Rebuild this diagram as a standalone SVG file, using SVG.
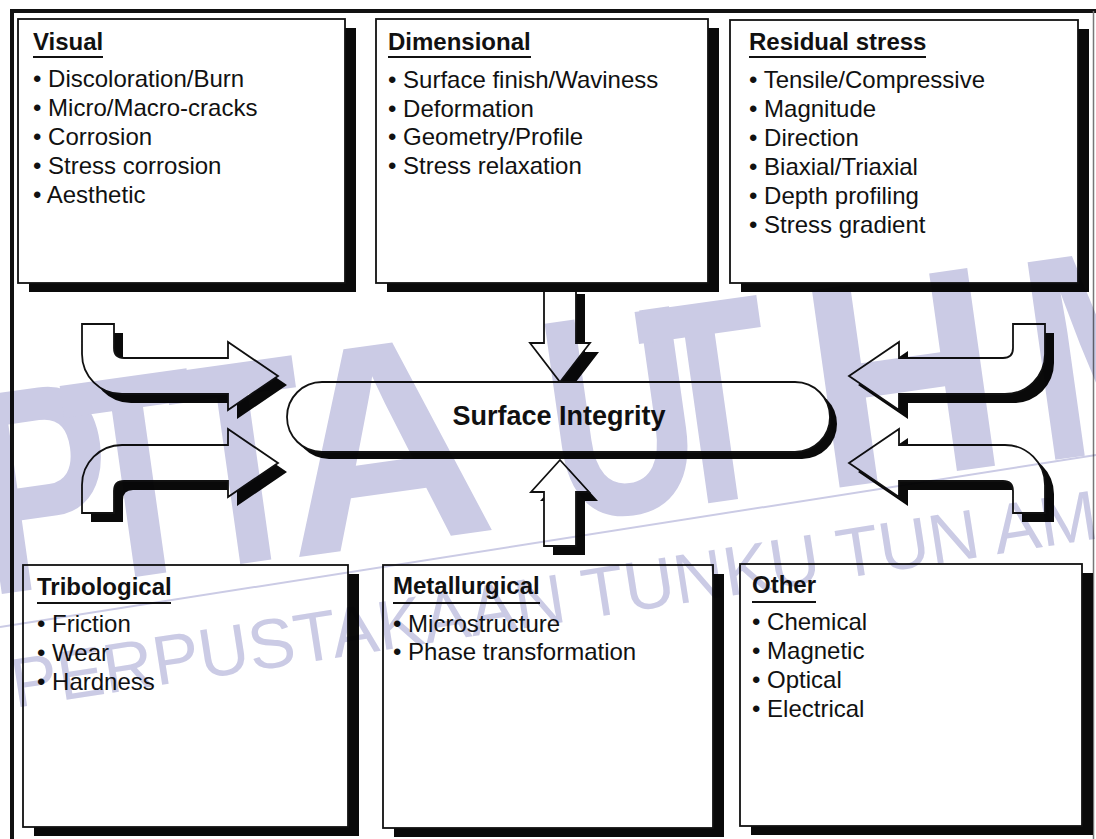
<svg xmlns="http://www.w3.org/2000/svg" width="1096" height="839" viewBox="0 0 1096 839">
<defs>
<style>
.box{fill:#fff;stroke:#111;stroke-width:1.8}
.shd{fill:#0a0a0a}
.ttl{font-family:"Liberation Sans",Arial,sans-serif;font-size:24px;font-weight:bold;fill:#111}
.itm{font-family:"Liberation Sans",Arial,sans-serif;font-size:24px;fill:#111}
.ul{stroke:#111;stroke-width:2}
.arr{fill:#fff;stroke:#111;stroke-width:1.8;stroke-linejoin:miter}
.ctr{font-family:"Liberation Sans",Arial,sans-serif;font-size:27px;font-weight:bold;fill:#111}
.wm{fill:#cbcbe5;font-family:"Liberation Sans",Arial,sans-serif;mix-blend-mode:multiply}
.big{font-size:290px;font-weight:bold}
</style>
</defs>
<rect width="1096" height="839" fill="#fff"/>
<g id="frame">
<line x1="10" y1="11" x2="1096" y2="11" stroke="#111" stroke-width="4"/>
<line x1="12" y1="9" x2="12" y2="839" stroke="#111" stroke-width="4"/>
<line x1="1093.5" y1="11" x2="1093.5" y2="839" stroke="#777" stroke-width="1.5"/>
</g>

<g id="visual">
<rect class="shd" x="29" y="28" width="327" height="264"/>
<rect class="box" x="18" y="19" width="327" height="264"/>
<text class="ttl" x="33" y="50">Visual</text>
<line class="ul" x1="33" y1="57" x2="103" y2="57"/>
<text class="itm" x="33" y="87">• Discoloration/Burn</text>
<text class="itm" x="33" y="116">• Micro/Macro-cracks</text>
<text class="itm" x="33" y="145">• Corrosion</text>
<text class="itm" x="33" y="174">• Stress corrosion</text>
<text class="itm" x="33" y="203">• Aesthetic</text>
</g>

<g id="dimensional">
<rect class="shd" x="387" y="28" width="332" height="264"/>
<rect class="box" x="376" y="19" width="332" height="264"/>
<text class="ttl" x="388" y="50">Dimensional</text>
<line class="ul" x1="388" y1="57" x2="531" y2="57"/>
<text class="itm" x="388" y="88">• Surface finish/Waviness</text>
<text class="itm" x="388" y="116.5">• Deformation</text>
<text class="itm" x="388" y="145">• Geometry/Profile</text>
<text class="itm" x="388" y="173.5">• Stress relaxation</text>
</g>

<g id="residual">
<rect class="shd" x="741" y="29" width="348" height="263"/>
<rect class="box" x="730" y="20" width="348" height="263"/>
<text class="ttl" x="749" y="50">Residual stress</text>
<line class="ul" x1="749" y1="57" x2="926" y2="57"/>
<text class="itm" x="749" y="88">• Tensile/Compressive</text>
<text class="itm" x="749" y="117">• Magnitude</text>
<text class="itm" x="749" y="146">• Direction</text>
<text class="itm" x="749" y="175">• Biaxial/Triaxial</text>
<text class="itm" x="749" y="204">• Depth profiling</text>
<text class="itm" x="749" y="233">• Stress gradient</text>
</g>

<g id="tribological">
<rect class="shd" x="34" y="574" width="325" height="262"/>
<rect class="box" x="23" y="565" width="325" height="262"/>
<text class="ttl" x="37" y="595">Tribological</text>
<line class="ul" x1="37" y1="603" x2="171" y2="603"/>
<text class="itm" x="37" y="632">• Friction</text>
<text class="itm" x="37" y="661">• Wear</text>
<text class="itm" x="37" y="690">• Hardness</text>
</g>

<g id="metallurgical">
<rect class="shd" x="394" y="574" width="330" height="263"/>
<rect class="box" x="383" y="565" width="330" height="263"/>
<text class="ttl" x="393" y="594">Metallurgical</text>
<line class="ul" x1="393" y1="603" x2="540" y2="603"/>
<text class="itm" x="393" y="632">• Microstructure</text>
<text class="itm" x="393" y="660">• Phase transformation</text>
</g>

<g id="other">
<rect class="shd" x="751" y="573" width="342" height="262"/>
<rect class="box" x="740" y="564" width="342" height="262"/>
<text class="ttl" x="752" y="593">Other</text>
<line class="ul" x1="752" y1="602" x2="816" y2="602"/>
<text class="itm" x="752" y="630">• Chemical</text>
<text class="itm" x="752" y="659">• Magnetic</text>
<text class="itm" x="752" y="688">• Optical</text>
<text class="itm" x="752" y="717">• Electrical</text>
</g>

<g id="connectors">
<g id="arrow-top">
<path class="shd" d="M553,294 L553,352 L539,352 L569,391 L599,352 L585,352 L585,294 Z"/>
<path class="arr" d="M544,292 L544,343 L530,343 L560,382 L590,343 L576,343 L576,292"/>
</g>
<g id="arrow-ul">
<path class="shd" transform="translate(9,9)" d="M82,324 L114,324 L114,348 Q114,358 124,358 L228,358 L228,342 L278,376 L228,410 L228,394 L122,394 A40,40 0 0 1 82,354 Z"/>
<path class="arr" d="M82,324 L114,324 L114,348 Q114,358 124,358 L228,358 L228,342 L278,376 L228,410 L228,394 L122,394 A40,40 0 0 1 82,354 Z"/>
</g>
<g id="arrow-ll">
<path class="shd" transform="translate(9,9)" d="M82,513 L82,485 A40,40 0 0 1 122,445 L228,445 L228,429 L278,463 L228,497 L228,481 L124,481 Q114,481 114,491 L114,513 Z"/>
<path class="arr" d="M82,513 L82,485 A40,40 0 0 1 122,445 L228,445 L228,429 L278,463 L228,497 L228,481 L124,481 Q114,481 114,491 L114,513 Z"/>
</g>
<g id="arrow-ur">
<path class="shd" transform="translate(9,9)" d="M1045,324 L1013,324 L1013,348 Q1013,358 1003,358 L899,358 L899,342 L849,376 L899,410 L899,394 L1005,394 A40,40 0 0 0 1045,354 Z"/>
<path class="arr" d="M1045,324 L1013,324 L1013,348 Q1013,358 1003,358 L899,358 L899,342 L849,376 L899,410 L899,394 L1005,394 A40,40 0 0 0 1045,354 Z"/>
</g>
<g id="arrow-lr">
<path class="shd" transform="translate(9,9)" d="M1045,513 L1045,485 A40,40 0 0 0 1005,445 L899,445 L899,429 L849,463 L899,497 L899,481 L1003,481 Q1013,481 1013,491 L1013,513 Z"/>
<path class="arr" d="M1045,513 L1045,485 A40,40 0 0 0 1005,445 L899,445 L899,429 L849,463 L899,497 L899,481 L1003,481 Q1013,481 1013,491 L1013,513 Z"/>
</g>
</g>

<g id="surface-integrity">
<rect class="shd" x="294" y="389" width="543" height="70" rx="35"/>
<rect class="box" x="287" y="382" width="543" height="70" rx="35"/>
<text class="ctr" x="559" y="425" text-anchor="middle">Surface Integrity</text>
</g>

<g id="arrow-bottom">
<path class="shd" d="M569,469 L598,501 L585,501 L585,555 L553,555 L553,501 L540,501 Z"/>
<path class="arr" d="M560,460 L589,492 L576,492 L576,546 L544,546 L544,492 L531,492 Z"/>
</g>

<g id="watermark" class="wm">
<text class="big" transform="translate(-12,596) rotate(-8) scale(0.72,1)">P</text>
<text class="big" transform="translate(85,584) rotate(-8) scale(0.75,1)">T</text>
<text class="big" transform="translate(190,571) rotate(-8) scale(0.75,1)">T</text>
<text class="big" transform="translate(292,558) rotate(-8) scale(1,1)">A</text>
<text class="big" transform="translate(560,523) rotate(-8) scale(0.72,1)">U</text>
<text class="big" transform="translate(660,510) rotate(-8) scale(0.72,1)">T</text>
<text class="big" transform="translate(822,490) rotate(-8) scale(0.92,1)">H</text>
<text class="big" transform="translate(1040,462) rotate(-8) scale(0.8,1)">M</text>
<line x1="0" y1="627" x2="1096" y2="455" stroke="#cbcbe5" stroke-width="2"/>
<text font-size="70" transform="translate(15,708) rotate(-8.9)" textLength="1265" lengthAdjust="spacing">PERPUSTAKAAN TUNKU TUN AMINAH</text>
</g>
</svg>
